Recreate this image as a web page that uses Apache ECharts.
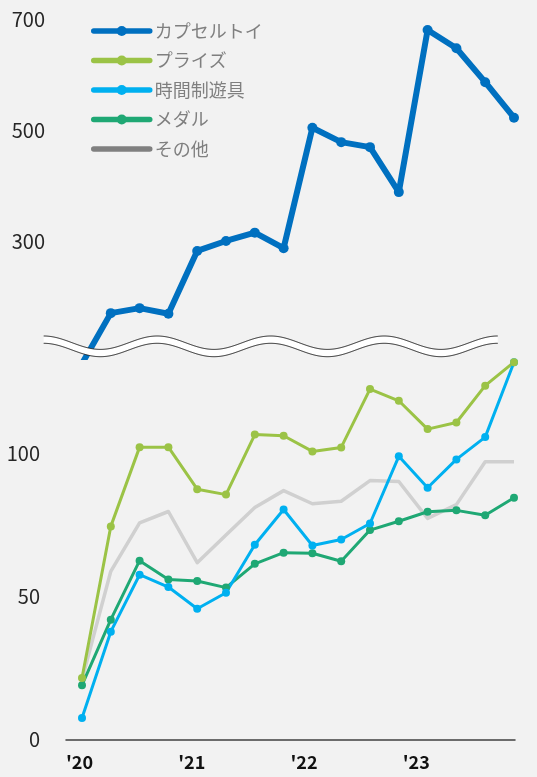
<!DOCTYPE html>
<html>
<head>
<meta charset="utf-8">
<script src="https://cdn.jsdelivr.net/npm/echarts@6/dist/echarts.min.js"></script>
<style>
  html, body { margin: 0; padding: 0; background: #f2f2f2; }
  #chart { width: 537px; height: 777px; }
</style>
</head>
<body>
<div id="chart"></div>
<script>
// quarterly, 2020 Q1 .. 2023 Q4
var quarters = ['20Q1','20Q2','20Q3','20Q4','21Q1','21Q2','21Q3','21Q4',
                '22Q1','22Q2','22Q3','22Q4','23Q1','23Q2','23Q3','23Q4'];
var yearLabels = ["'20", "'21", "'22", "'23", ''];

var capsule = [80, 171, 180, 170, 283, 301, 316, 288, 505, 479, 470, 389, 681, 648, 587, 523];
var prize   = [21.5, 74.5, 102.2, 102.2, 87.5, 85.6, 106.6, 106.2, 100.7, 102.1, 122.5, 118.4, 108.5, 110.8, 123.7, 131.9];
var timed   = [7.5, 37.7, 57.6, 53.3, 45.7, 51.3, 68.1, 80.4, 67.8, 69.9, 75.5, 99.0, 88.0, 97.9, 105.7, 131.9];
var medal   = [19.0, 41.9, 62.5, 55.9, 55.4, 53.1, 61.4, 65.3, 65.1, 62.3, 73.2, 76.3, 79.6, 80.1, 78.4, 84.5];
var other   = [21, 58.8, 75.7, 79.7, 61.8, 71.5, 81.1, 87.0, 82.4, 83.3, 90.5, 90.2, 77.3, 82.1, 97.1, 97.1];

var upperTicks = [300, 500, 700];
var lowerTicks = [0, 50, 100];

var font = '"Noto Sans CJK JP", "Noto Sans", sans-serif';

// wavy break band
function wave(yc) {
  var pts = [];
  for (var x = 43.7; x <= 497.7; x += 1) {
    pts.push([x, yc - 6.7 * Math.cos(2 * Math.PI * (x - 43.7) / 113.5)]);
  }
  return pts;
}
var waveTop = wave(342.7);
var waveBottom = wave(350);

var chart = echarts.init(document.getElementById('chart'));
chart.setOption({
  backgroundColor: '#f2f2f2',
  textStyle: { fontFamily: font },
  animation: false,
  grid: [
    { left: 82, right: 23, top: 0, height: 357 },
    { left: 82, right: 23, top: 339, height: 400.5 },
    { left: 66, right: 22, top: 339, height: 400.5 }
  ],
  xAxis: [
    { gridIndex: 0, type: 'category', data: quarters, boundaryGap: false, show: false },
    { gridIndex: 1, type: 'category', data: quarters, boundaryGap: false, show: false },
    {
      gridIndex: 2, type: 'category', data: yearLabels, boundaryGap: false,
      axisLine: { lineStyle: { color: '#404040', width: 1.5 } },
      axisTick: { show: false },
      axisLabel: { interval: 0, align: 'left', fontSize: 18, fontWeight: 'bold', color: '#111', margin: 14, fontFamily: font }
    }
  ],
  yAxis: [
    {
      gridIndex: 0, type: 'value', min: 92, max: 735,
      splitLine: { show: false }, axisLine: { show: false }, axisTick: { show: false },
      axisLabel: { customValues: upperTicks, fontSize: 20, color: '#262626', margin: 37, fontFamily: font }
    },
    {
      gridIndex: 1, type: 'value', min: 0, max: 140,
      splitLine: { show: false }, axisLine: { show: false }, axisTick: { show: false },
      axisLabel: { customValues: lowerTicks, fontSize: 20, color: '#262626', margin: 42, fontFamily: font }
    },
    { gridIndex: 2, type: 'value', min: 0, max: 140, show: false }
  ],
  legend: {
    orient: 'vertical',
    left: 91, top: 22, padding: 0,
    itemWidth: 56, itemHeight: 12.5, itemGap: 11.5,
    textStyle: { fontSize: 18, color: '#7f7f7f', lineHeight: 18, fontFamily: font },
    lineStyle: { width: 5.5, cap: 'round' },
    data: [
      { name: 'カプセルトイ' },
      { name: 'プライズ' },
      { name: '時間制遊具' },
      { name: 'メダル' },
      { name: 'その他', lineStyle: { color: '#808080' }, itemStyle: { opacity: 0 } }
    ]
  },
  series: [
    {
      name: 'その他', type: 'line', xAxisIndex: 1, yAxisIndex: 1, data: other,
      symbol: 'none', color: '#d0d0d0',
      lineStyle: { width: 3.5, color: '#d0d0d0', join: 'round' }
    },
    {
      name: 'メダル', type: 'line', xAxisIndex: 1, yAxisIndex: 1, data: medal,
      symbol: 'circle', symbolSize: 8, color: '#1fa874',
      lineStyle: { width: 3, join: 'round' }
    },
    {
      name: '時間制遊具', type: 'line', xAxisIndex: 1, yAxisIndex: 1, data: timed,
      symbol: 'circle', symbolSize: 8, color: '#00b0f0',
      lineStyle: { width: 3, join: 'round' }
    },
    {
      name: 'プライズ', type: 'line', xAxisIndex: 1, yAxisIndex: 1, data: prize,
      symbol: 'circle', symbolSize: 8, color: '#9bc346',
      lineStyle: { width: 3, join: 'round' }
    },
    {
      name: 'カプセルトイ', type: 'line', xAxisIndex: 0, yAxisIndex: 0, data: capsule,
      symbol: 'circle', symbolSize: 10, color: '#0070c0',
      lineStyle: { width: 6, join: 'round' }
    }
  ],
  graphic: [
    {
      type: 'polygon', z: 100, silent: true,
      shape: { points: waveTop.concat(waveBottom.slice().reverse()) },
      style: { fill: '#ffffff', stroke: null }
    },
    {
      type: 'polyline', z: 101, silent: true,
      shape: { points: waveTop },
      style: { stroke: '#222', lineWidth: 1, fill: null }
    },
    {
      type: 'polyline', z: 101, silent: true,
      shape: { points: waveBottom },
      style: { stroke: '#222', lineWidth: 1, fill: null }
    }
  ]
});
</script>
</body>
</html>
